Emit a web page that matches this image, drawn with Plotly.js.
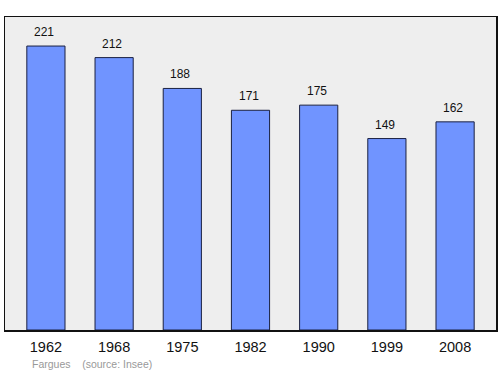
<!DOCTYPE html>
<html><head><meta charset="utf-8">
<script src="https://cdn.plot.ly/plotly-3.0.1.min.js"></script>
<style>html,body{margin:0;padding:0;background:#fff}#c{width:500px;height:374px}</style>
</head><body><div id="c"></div>
<script>
const years = ["1962","1968","1975","1982","1990","1999","2008"];
const population = [221,212,188,171,175,149,162];
const place = "Fargues";
const source = "(source: Insee)";

const trace = {
  type: "bar", x: years, y: population, width: 0.56,
  marker: {color: "#7094ff", line: {color: "#1a2040", width: 1}},
  hoverinfo: "none"
};
const annotations = years.map((yr, i) => ({
  x: i, y: population[i], xref: "x", yref: "y", text: String(population[i]),
  showarrow: false, yanchor: "bottom", yshift: 5, xshift: -2,
  font: {family: "Liberation Sans, Arial, sans-serif", size: 12, color: "#111"}
}));
annotations.push({
  xref: "paper", yref: "paper", x: 0.051, y: -0.11, xanchor: "left", yanchor: "middle",
  showarrow: false, text: place + "&nbsp;&nbsp;&nbsp;&nbsp;" + source,
  font: {family: "Liberation Sans, Arial, sans-serif", size: 10.5, color: "#999"}
});
Plotly.newPlot("c", [trace], {
  width: 500, height: 374,
  margin: {l: 5, r: 4, t: 17, b: 44},
  paper_bgcolor: "#fff", plot_bgcolor: "#eeeeee",
  showlegend: false,
  font: {family: "Liberation Sans, Arial, sans-serif"},
  xaxis: {type: "category", range: [-0.6, 6.6], showline: true, mirror: true, linecolor: "#111", linewidth: 1.5,
          ticks: "", ticklabelstandoff: 3, tickfont: {size: 14.5, color: "#111"}, fixedrange: true},
  yaxis: {range: [0, 243.6], showline: true, mirror: true, linecolor: "#111", linewidth: 1.5,
          showgrid: false, zeroline: false, showticklabels: false, ticks: "", fixedrange: true},
  annotations: annotations
}, {displayModeBar: false, staticPlot: true});
</script></body></html>
